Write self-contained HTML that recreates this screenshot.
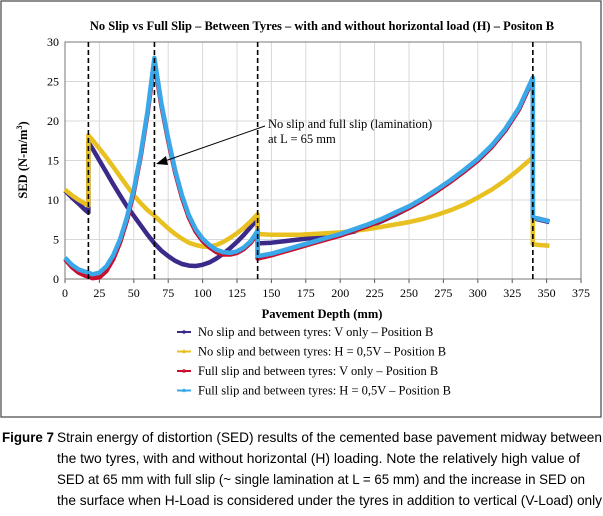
<!DOCTYPE html>
<html><head><meta charset="utf-8"><style>
html,body{margin:0;padding:0;background:#fff;}
svg{display:block;}
text{font-family:"Liberation Serif",serif;}
.cap{font-family:"Liberation Sans Narrow","Liberation Sans",sans-serif;font-size:14px;}
</style></head><body>
<svg id="chart" width="603" height="516" viewBox="0 0 603 516" xmlns="http://www.w3.org/2000/svg">
<rect x="1" y="1" width="600" height="416" fill="#fff" stroke="#444" stroke-width="1.2"/>
<text x="322" y="30" text-anchor="middle" font-size="12.5" font-weight="bold">No Slip vs Full Slip – Between Tyres – with and without horizontal load (H) – Positon B</text>
<g id="grid"></g>
<g id="axes"></g>
<g id="series"></g>
<text transform="translate(27,160) rotate(-90)" text-anchor="middle" font-size="12.5" font-weight="bold">SED (N-m/m<tspan font-size="8" dy="-5">3</tspan><tspan dy="5">)</tspan></text>
<text x="322" y="318" text-anchor="middle" font-size="12.5" font-weight="bold">Pavement Depth (mm)</text>
<g>
<text x="268" y="128" font-size="12.5">No slip and full slip (lamination)</text>
<text x="268" y="143" font-size="12.5">at L = 65 mm</text>
<line x1="265" y1="126" x2="162" y2="162" stroke="#000" stroke-width="1"/>
<polygon points="156,164 166,156 168,165" fill="#000"/>
</g>
<g id="legend"></g>
<g>
<text class="cap" x="2" y="442" font-weight="bold" textLength="52" lengthAdjust="spacingAndGlyphs">Figure 7</text>
<text class="cap" x="57" y="442" textLength="545" lengthAdjust="spacingAndGlyphs">Strain energy of distortion (SED) results of the cemented base pavement midway between</text>
<text class="cap" x="57" y="463" textLength="523" lengthAdjust="spacingAndGlyphs">the two tyres, with and without horizontal (H) loading. Note the relatively high value of</text>
<text class="cap" x="57" y="484" textLength="528" lengthAdjust="spacingAndGlyphs">SED at 65 mm with full slip (~ single lamination at L = 65 mm) and the increase in SED on</text>
<text class="cap" x="57" y="505" textLength="545" lengthAdjust="spacingAndGlyphs">the surface when H-Load is considered under the tyres in addition to vertical (V-Load) only</text>
</g>
</svg>
<script>
const depths = [0,5,10,15,17,17,20,25,30,35,40,45,50,55,60,65,70,75,80,85,90,95,100,105,110,115,120,125,130,135,140,140,150,160,170,180,190,200,210,220,230,240,250,260,270,280,290,300,310,320,330,340,340,345,352];
const noSlipV = [11.2,10.3,9.5,8.7,8.4,17.3,16.5,15,13.5,12,10.6,9.2,8,6.8,5.6,4.5,3.6,2.9,2.3,1.9,1.7,1.65,1.8,2.1,2.6,3.2,3.9,4.7,5.6,6.6,7.6,4.5,4.6,4.8,5.0,5.2,5.4,5.6,6.0,6.6,7.3,8.1,9.0,10.0,11.1,12.3,13.6,15.0,16.7,18.8,21.5,25.3,7.7,7.5,7.2];
const noSlipH = [11.3,10.6,10,9.5,9.3,18.2,17.6,16.5,15.4,14.2,13,11.8,10.6,9.6,8.7,8,7.2,6.4,5.7,5.1,4.6,4.3,4.1,4.1,4.3,4.7,5.2,5.8,6.5,7.3,8.2,5.7,5.6,5.6,5.6,5.7,5.8,5.9,6.1,6.3,6.6,6.9,7.2,7.6,8.1,8.7,9.4,10.3,11.3,12.5,13.9,15.4,4.4,4.3,4.2];
const fullSlipV = [2.5,1.5,0.8,0.4,0.3,0.3,0.1,0.2,1.0,2.5,4.6,7.4,11,15.5,21,27.5,22,17.5,13.5,10.3,7.8,6,4.8,4,3.4,3.1,3.1,3.3,3.8,4.6,5.8,2.6,3.0,3.5,4.0,4.5,5.0,5.5,6.1,6.7,7.4,8.2,9.0,10.0,11.1,12.3,13.6,15.0,16.7,18.8,21.5,25.3,7.8,7.6,7.3];
const fullSlipH = [2.7,1.8,1.2,0.9,0.8,0.8,0.6,0.8,1.6,3,5,7.8,11.3,15.8,21.3,28,22.3,17.8,13.8,10.6,8.1,6.3,5.1,4.3,3.7,3.4,3.3,3.5,4.0,4.8,6.1,2.9,3.2,3.7,4.2,4.7,5.2,5.7,6.3,6.9,7.6,8.4,9.2,10.2,11.3,12.5,13.8,15.2,16.9,19.0,21.7,25.5,7.8,7.6,7.3];
const xTicks = [0,25,50,75,100,125,150,175,200,225,250,275,300,325,350,375];
const yTicks = [0,5,10,15,20,25,30];
const boundaries = [17,65,140,340];
const seriesNames = ["No slip and between tyres: V only – Position B","No slip and between tyres: H = 0,5V – Position B","Full slip and between tyres: V only – Position B","Full slip and between tyres: H = 0,5V – Position B"];

const NS="http://www.w3.org/2000/svg";
const L=65,R=581,T=42,B=279;
const sx=v=>L+(v/375)*(R-L);
const sy=v=>B-(v/30)*(B-T);
function mk(tag,attrs,parent,txt){const e=document.createElementNS(NS,tag);for(const k in attrs)e.setAttribute(k,attrs[k]);if(txt!==undefined)e.textContent=txt;parent.appendChild(e);return e;}
const grid=document.getElementById('grid'),axes=document.getElementById('axes'),ser=document.getElementById('series'),leg=document.getElementById('legend');
xTicks.forEach(t=>{
 const g=mk('line',{x1:sx(t),x2:sx(t),y1:T,y2:B,stroke:'#d8d8d8','stroke-width':1},grid);
 
 
 const tk=mk('line',{x1:sx(t),x2:sx(t),y1:B,y2:B+4,stroke:'#555'},axes);
 
 
 const lb=mk('text',{x:sx(t),y:B+18,'text-anchor':'middle','font-size':12},axes,String(t));
 
 
});
yTicks.forEach(t=>{
 const g=mk('line',{x1:L,x2:R,y1:sy(t),y2:sy(t),stroke:'#d8d8d8','stroke-width':1},grid);
 
 
 const lb=mk('text',{x:L-6,y:sy(t)+4,'text-anchor':'end','font-size':12},axes,String(t));
 
 
});
const fr=mk('rect',{x:L,y:T,width:R-L,height:B-T,fill:'none',stroke:'#777','stroke-width':1},axes);


const colors=['#3b2a8a','#e8c020','#c8102e','#3aa8e8'];
const data=[noSlipV,noSlipH,fullSlipV,fullSlipH];
const names=['series-no-slip-v','series-no-slip-h','series-full-slip-v','series-full-slip-h'];
data.forEach((vals,i)=>{
 const pts=depths.map((d,j)=>sx(d).toFixed(1)+','+sy(vals[j]).toFixed(1)).join(' ');
 const p=mk('polyline',{points:pts,fill:'none',stroke:colors[i],'stroke-width':4.5,'stroke-linejoin':'round'},ser);
 
 
});
boundaries.forEach(b=>{
 const l=mk('line',{x1:sx(b),x2:sx(b),y1:T,y2:B,stroke:'#000','stroke-width':1.6,'stroke-dasharray':'5,3'},ser);
 
 
});
seriesNames.forEach((n,i)=>{
 const y=336+i*19.5;
 const ln=mk('line',{x1:177,x2:191,y1:y-4,y2:y-4,stroke:colors[i],'stroke-width':2},leg);
 
 
 const c=mk('circle',{cx:184,cy:y-4,r:1.8,fill:colors[i]},leg);
 
 
 const t=mk('text',{x:198,y:y,'font-size':12.5},leg,n);
 
 
});
</script>
</body></html>
